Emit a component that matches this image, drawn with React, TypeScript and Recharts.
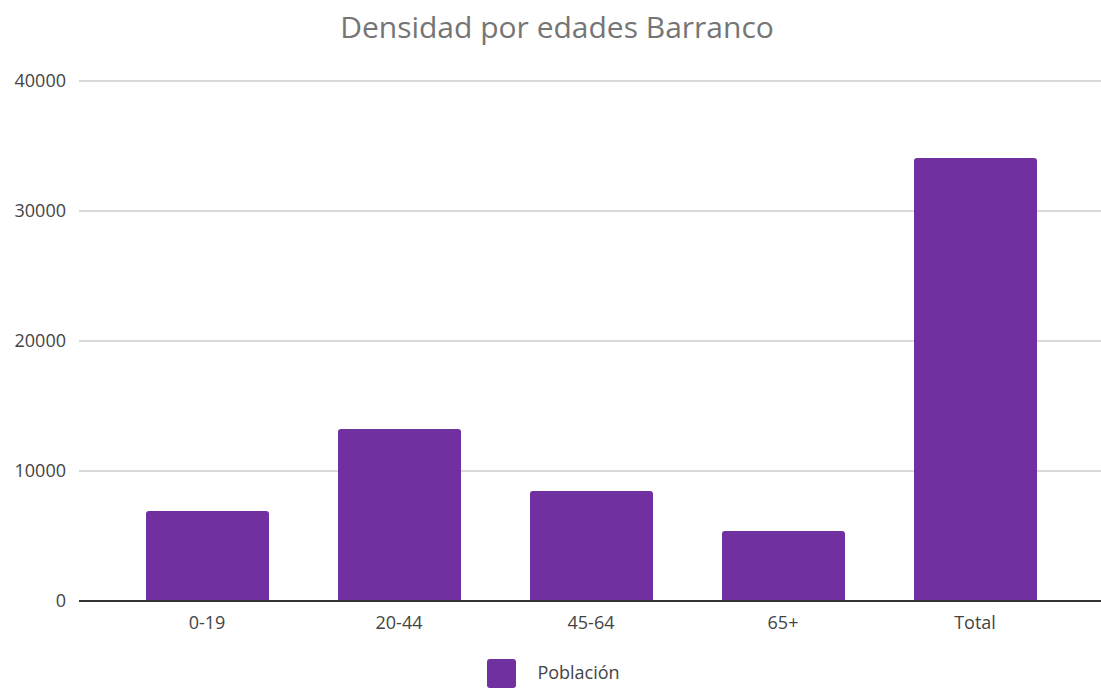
import React from "react";
import { Bar, BarChart, CartesianGrid, Legend, XAxis, YAxis } from "recharts";

const categories = ["0-19", "20-44", "45-64", "65+", "Total"];
const poblacion = [6920, 13230, 8460, 5390, 34080];
const yTicks = [0, 10000, 20000, 30000, 40000];

const data = categories.map((grupo, i) => ({ grupo, poblacion: poblacion[i] }));

const PURPLE = "#7030a0";
const FONT = "'Open Sans', 'Noto Sans', sans-serif";

function LegendContent() {
  return (
    <div
      style={{
        display: "flex",
        justifyContent: "center",
        alignItems: "center",
        height: 34,
        paddingLeft: 6,
        fontFamily: FONT,
      }}
    >
      <span
        style={{
          display: "inline-block",
          width: 29,
          height: 29,
          background: PURPLE,
          borderRadius: 3,
          marginRight: 21,
          marginTop: 4,
        }}
      />
      <span style={{ fontSize: 18, color: "#444", marginTop: 2 }}>Población</span>
    </div>
  );
}

export default function App() {
  return (
    <div
      style={{
        position: "absolute",
        left: 0,
        top: 0,
        width: 1101,
        height: 688,
        background: "#fff",
        fontFamily: FONT,
      }}
    >
      {/* Title */}
      <div
        style={{
          position: "absolute",
          top: 6,
          left: 0,
          width: 1114,
          textAlign: "center",
          fontSize: 30,
          color: "#757575",
        }}
      >
        Densidad por edades Barranco
      </div>
      <BarChart
        width={1101}
        height={688}
        data={data}
        margin={{ top: 81, right: 0, bottom: 0, left: 0 }}
      >
        <CartesianGrid vertical={false} stroke="#cccccc" strokeWidth={1.5} />
        <XAxis
          dataKey="grupo"
          height={53}
          padding={{ left: 32, right: 30 }}
          tickLine={false}
          tickSize={0}
          tickMargin={15}
          axisLine={{ stroke: "#333", strokeWidth: 2 }}
          tick={{ fill: "#444", fontSize: 18, fontFamily: FONT }}
        />
        <YAxis
          width={79}
          domain={[0, 40000]}
          ticks={yTicks}
          axisLine={false}
          tickLine={false}
          tickSize={0}
          tickMargin={13}
          tick={{ fill: "#444", fontSize: 18, fontFamily: FONT }}
        />
        <Legend verticalAlign="bottom" height={34} content={LegendContent} />
        <Bar
          dataKey="poblacion"
          name="Población"
          fill={PURPLE}
          barSize={123}
          radius={[3, 3, 0, 0]}
          isAnimationActive={false}
        />
      </BarChart>
    </div>
  );
}
